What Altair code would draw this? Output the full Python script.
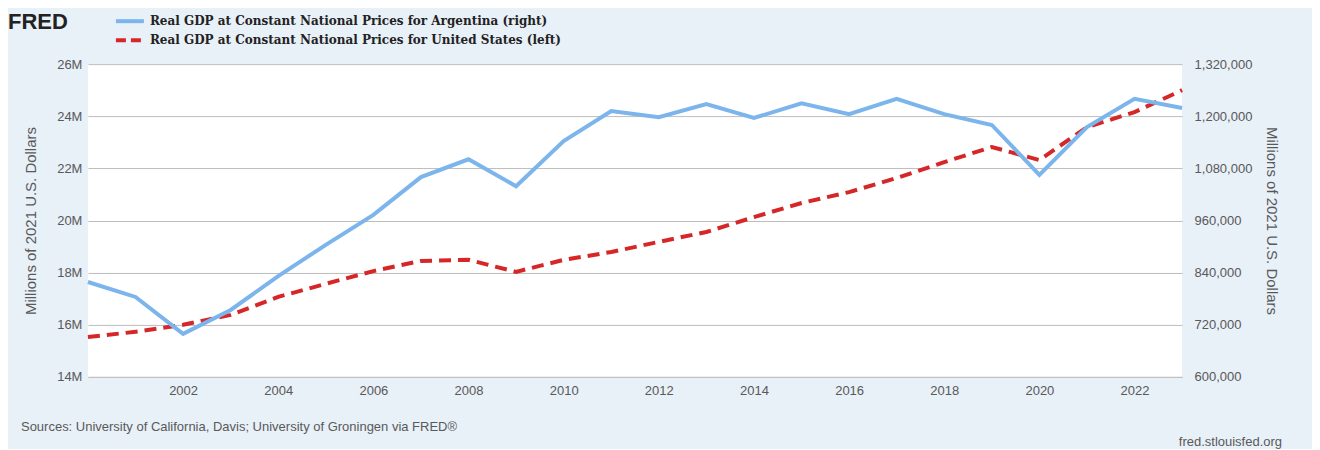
import altair as alt
import pandas as pd

years = list(range(2000, 2024))
us = [15.53, 15.73, 16.0, 16.38, 17.07, 17.57, 18.06, 18.45, 18.49, 18.03, 18.49, 18.79,
      19.18, 19.56, 20.13, 20.67, 21.09, 21.63, 22.24, 22.82, 22.32, 23.58, 24.16, 25.0]
arg = [818500, 784000, 699000, 754000, 832000, 904000, 973000, 1060000, 1101000, 1039000,
       1143000, 1212000, 1198000, 1228000, 1196000, 1230000, 1205000, 1240000, 1205000,
       1180000, 1065000, 1175000, 1240000, 1219000]

df = pd.DataFrame({"year": years, "us": us, "arg": arg})
W, H = 1095, 313
xs = alt.X("year:Q", scale=alt.Scale(domain=[2000, 2023], nice=False),
           axis=alt.Axis(values=list(range(2002, 2023, 2)), format="d", title=None, grid=False,
                         ticks=False, labelPadding=8, domainColor="#c0c0c0"))

left = alt.Chart(df).mark_line(color="#d62728", strokeWidth=4, strokeDash=[12, 7]).encode(
    x=xs,
    y=alt.Y("us:Q", scale=alt.Scale(domain=[14, 26], nice=False),
            axis=alt.Axis(values=list(range(14, 27, 2)), labelExpr="datum.value + 'M'",
                          title="Millions of 2021 U.S. Dollars", titleFontWeight="normal",
                          titleFontSize=15, titleColor="#595959", titlePadding=18,
                          domain=False, ticks=False, gridColor="#bdbdbd", labelPadding=6)))
right = alt.Chart(df).mark_line(color="#7cb5ec", strokeWidth=4).encode(
    x=xs,
    y=alt.Y("arg:Q", scale=alt.Scale(domain=[600000, 1320000], nice=False),
            axis=alt.Axis(orient="right", values=list(range(600000, 1320001, 120000)), format=",d",
                          title="Millions of 2021 U.S. Dollars", titleFontWeight="normal",
                          titleFontSize=15, titleColor="#595959", titlePadding=12, titleAngle=90,
                          domain=False, ticks=False, grid=False, labelPadding=12)))

labels = ["Real GDP at Constant National Prices for Argentina (right)",
          "Real GDP at Constant National Prices for United States (left)"]
legtext = alt.Chart(pd.DataFrame({"t": [labels[0]]})).mark_text(
    align="left", font="DejaVu Serif", fontWeight="bold", fontSize=12, color="#222").encode(
    text="t:N", x=alt.value(62), y=alt.value(-43))
legtext2 = alt.Chart(pd.DataFrame({"t": [labels[1]]})).mark_text(
    align="left", font="DejaVu Serif", fontWeight="bold", fontSize=12, color="#222").encode(
    text="t:N", x=alt.value(62), y=alt.value(-24))
l1 = alt.Chart(df.head(1)).mark_rule(color="#7cb5ec", strokeWidth=4).encode(
    x=alt.value(28), x2=alt.value(56), y=alt.value(-43))
l2 = alt.Chart(df.head(1)).mark_rule(color="#d62728", strokeWidth=4, strokeDash=[10, 5]).encode(
    x=alt.value(28), x2=alt.value(56), y=alt.value(-24))
fred = alt.Chart(pd.DataFrame({"t": ["FRED"]})).mark_text(
    align="left", baseline="middle", fontWeight="bold", fontSize=22, color="#222", font="Arial").encode(
    text="t:N", x=alt.value(-80), y=alt.value(-42))
src = alt.Chart(pd.DataFrame({"t": ["Sources: University of California, Davis; University of Groningen via FRED®"]})).mark_text(
    align="left", fontSize=13, color="#595959", font="Arial").encode(
    text="t:N", x=alt.value(-67), y=alt.value(H + 50))
site = alt.Chart(pd.DataFrame({"t": ["fred.stlouisfed.org"]})).mark_text(
    align="right", fontSize=13, color="#595959", font="Arial").encode(
    text="t:N", x=alt.value(W + 100), y=alt.value(H + 65))

chart = alt.layer(left, right, l1, l2, legtext, legtext2, fred, src, site).resolve_scale(
    y="independent").properties(width=W, height=H, background="#e8f0f8",
                                padding={"left": 0, "top": 3, "right": 30, "bottom": 0}
).configure_view(fill="white", stroke=None).configure_axis(
    labelColor="#595959", labelFontSize=13, labelFont="Arial", titleFont="Arial")
chart.save("out.html", embed_options={"renderer": "svg", "actions": False})
